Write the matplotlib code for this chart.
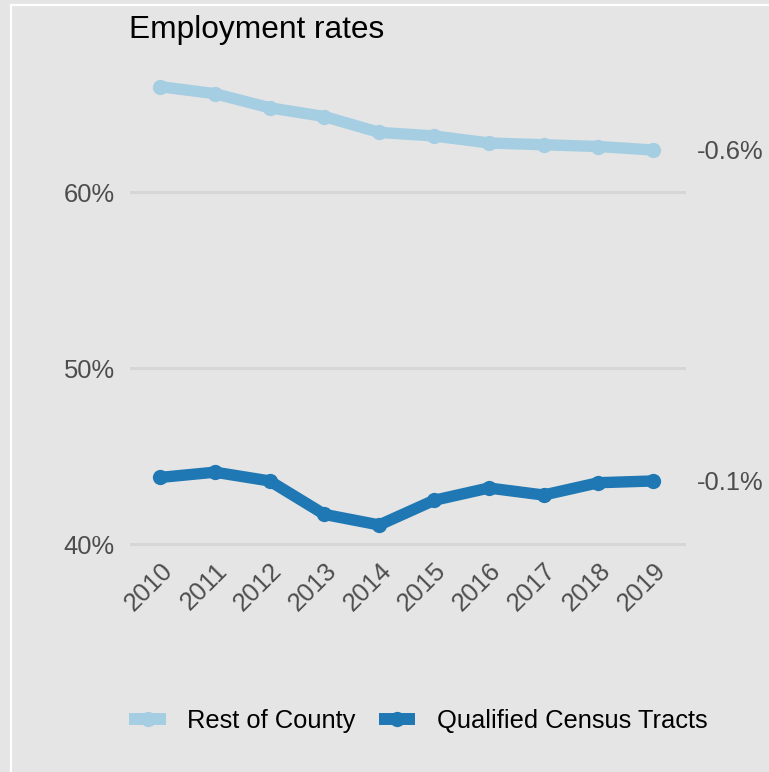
import matplotlib
matplotlib.use("Agg")
import matplotlib.pyplot as plt
from matplotlib.ticker import FuncFormatter

plt.rcParams['font.family'] = ['Liberation Sans', 'DejaVu Sans']

years = ["2010", "2011", "2012", "2013", "2014", "2015", "2016", "2017", "2018", "2019"]
rest_of_county = [66.0, 65.6, 64.8, 64.3, 63.4, 63.2, 62.8, 62.7, 62.6, 62.4]
qualified_tracts = [43.8, 44.1, 43.6, 41.7, 41.1, 42.5, 43.2, 42.8, 43.5, 43.6]
series_names = ["Rest of County", "Qualified Census Tracts"]
series_colors = ["#a6cee3", "#1f78b4"]
change_labels = ["-0.6%", "-0.1%"]
y_ticks = [40, 50, 60]

BG = "#e5e5e5"
W, H = 769, 772
fig = plt.figure(figsize=(W / 100, H / 100), dpi=100, facecolor=BG)

# thin white frame line along the top and left edges
fig.add_artist(plt.Line2D([11 / W, 1.0], [1 - 5 / H, 1 - 5 / H], color="white", lw=1.6,
                          transform=fig.transFigure))
fig.add_artist(plt.Line2D([11 / W, 11 / W], [1 - 5 / H, 0.0], color="white", lw=1.6,
                          transform=fig.transFigure))

ax = fig.add_axes([130 / W, 0.2835, 556 / W, 0.6225])
ax.set_facecolor(BG)
for s in ax.spines.values():
    s.set_visible(False)

x = list(range(len(years)))
for vals, name, col, lab in zip([rest_of_county, qualified_tracts], series_names,
                                series_colors, change_labels):
    ax.plot(x, vals, color=col, lw=8.2, marker="o", ms=11, mew=0,
            solid_capstyle="round", solid_joinstyle="round", label=name, zorder=3)
    ax.annotate(lab, xy=(x[-1], vals[-1]), xytext=(44, -2), textcoords="offset pixels",
                ha="left", va="center", fontsize=18.4, color="#4d4d4d",
                annotation_clip=False)

ax.set_xlim(-0.55, 9.6)
ax.set_ylim(39.5, 66.8)
ax.set_yticks(y_ticks)
ax.yaxis.set_major_formatter(FuncFormatter(lambda v, p: f"{v:.0f}%"))
ax.set_xticks(x)
ax.set_xticklabels(years, rotation=45, ha="right", rotation_mode="anchor")
ax.tick_params(axis="both", length=0, labelsize=18.4, labelcolor="#4d4d4d")
ax.tick_params(axis="y", pad=11)
ax.tick_params(axis="x", pad=4)
ax.grid(axis="y", color="#d6d6d6", lw=2.2)
ax.grid(axis="x", visible=False)
ax.set_axisbelow(True)

fig.text(129 / W, 1 - 37.7 / H, "Employment rates", fontsize=22.8, color="black",
         ha="left", va="baseline")

leg = fig.legend(*ax.get_legend_handles_labels(), loc="center", ncol=2,
                 bbox_to_anchor=(0.5442, 1 - 721 / H), frameon=False, fontsize=18.4,
                 handlelength=1.42, handletextpad=0.85, columnspacing=0.9)
for h in leg.legend_handles:
    h.set_solid_capstyle("butt")
    h.set_linewidth(8.6)

fig.savefig("out.png", dpi=100, facecolor=BG)
